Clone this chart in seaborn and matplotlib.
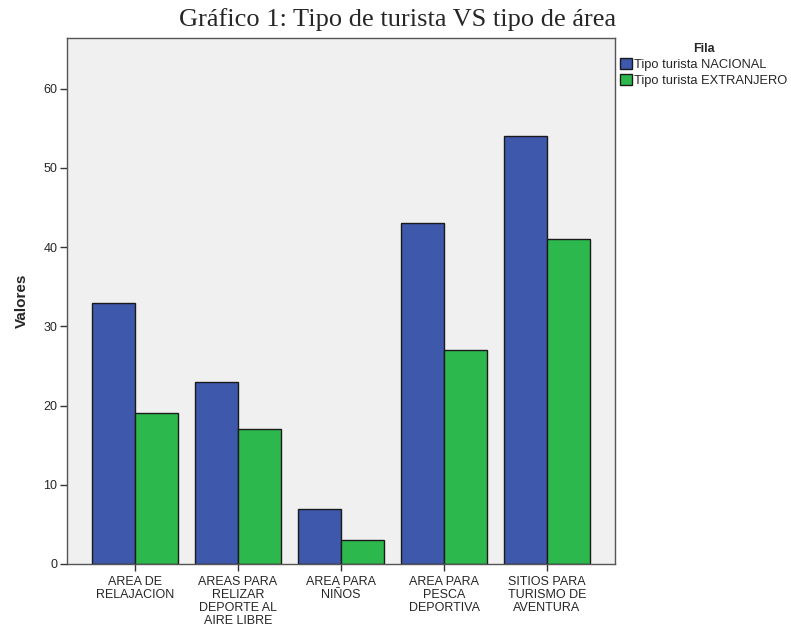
import seaborn as sns
import pandas as pd
from matplotlib import pyplot as plt

categorias = ['AREA DE\nRELAJACION', 'AREAS PARA\nRELIZAR\nDEPORTE AL\nAIRE LIBRE',
              'AREA PARA\nNIÑOS', 'AREA PARA\nPESCA\nDEPORTIVA', 'SITIOS PARA\nTURISMO DE\nAVENTURA']
series = ['Tipo turista NACIONAL', 'Tipo turista EXTRANJERO']
nacional = [33, 23, 7, 43, 54]
extranjero = [19, 17, 3, 27, 41]

df = pd.DataFrame({
    'area': categorias * 2,
    'Fila': [series[0]] * 5 + [series[1]] * 5,
    'valor': nacional + extranjero,
})

sns.set_style('white')
plt.rcParams['font.family'] = ['Liberation Sans', 'DejaVu Sans']

fig = plt.figure(figsize=(7.91, 6.3), dpi=100)
ax = fig.add_axes([0.0847, 0.1048, 0.6928, 0.8349])
ax.set_facecolor('#f0f0f0')

sns.barplot(data=df, x='area', y='valor', hue='Fila', hue_order=series,
            palette=['#3e58ac', '#2db84d'], width=0.83, saturation=1,
            edgecolor='#1a1a1a', linewidth=1, ax=ax)

ax.set_xlim(-0.66, 4.66)
ax.set_ylim(0, 66.4)
ax.set_yticks(range(0, 61, 10))
ax.tick_params(axis='both', direction='out', length=5, width=1, color='#333333',
               labelsize=9, left=True, bottom=True, pad=2)
ax.tick_params(axis='x', pad=4)
for lbl in ax.get_xticklabels():
    lbl.set_linespacing(1.1)
ax.set_xlabel('')
ax.set_ylabel('Valores', fontsize=11, fontweight='bold', labelpad=10)
for s in ax.spines.values():
    s.set_color('#555555')
    s.set_linewidth(1)

leg = ax.legend(title='Fila', loc='upper left', bbox_to_anchor=(1.0, 1.0),
                frameon=False, fontsize=9.3, title_fontproperties={'weight': 'bold', 'size': 9},
                handlelength=0.9, handleheight=1.0, handletextpad=0.15, borderaxespad=0.2,
                labelspacing=0.2, borderpad=0.2)
leg._legend_box.align = 'center'

fig.suptitle('Gráfico 1: Tipo de turista VS tipo de área', x=0.503, y=0.988,
             fontsize=19, family=['Liberation Serif', 'DejaVu Serif'])

fig.savefig('out.png', dpi=100)
